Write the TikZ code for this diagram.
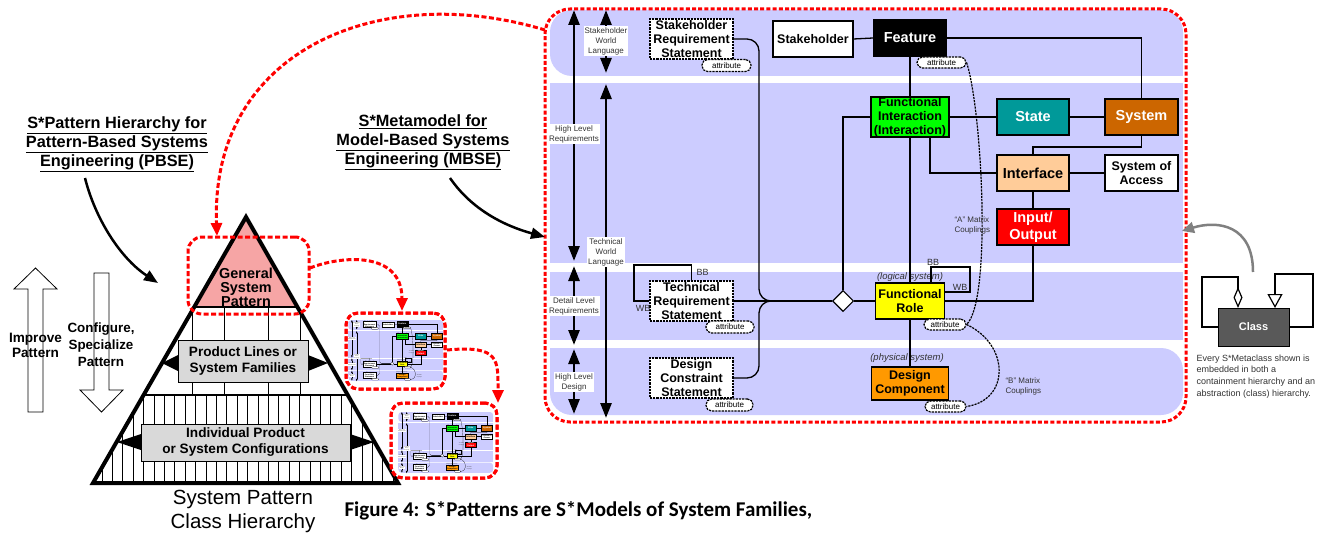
\documentclass[tikz,border=0pt]{standalone}
\usepackage{fontspec}
\setmainfont{Liberation Sans}
\newfontfamily\calibri{Carlito}
\usetikzlibrary{arrows.meta,shapes.geometric}
\definecolor{lav}{HTML}{CCCCFF}
\definecolor{fgreen}{HTML}{00FF00}
\definecolor{steal}{HTML}{009999}
\definecolor{sysor}{HTML}{CC6600}
\definecolor{peach}{HTML}{FFCC99}
\definecolor{iored}{HTML}{FF0000}
\definecolor{fryel}{HTML}{FFFF00}
\definecolor{dcor}{HTML}{FF9900}
\definecolor{pinkf}{HTML}{F6A5A5}
\definecolor{boxgray}{HTML}{D9D9D9}
\definecolor{classgray}{HTML}{595959}
\definecolor{labgray}{HTML}{333333}
\newcommand\fs[2]{\fontsize{#1}{#2}\selectfont}
\newcommand\mmset[1]{%
 \pgfmathsetmacro\mmlwT{1.3*#1}%
 \pgfmathsetmacro\mmlwB{1.1*#1}%
 \pgfmathsetmacro\mmlwD{1.2*#1}%
 \pgfmathsetmacro\mmlwA{2.6*#1}%
 \pgfmathsetmacro\mmlwK{2.4*#1}%
 \pgfmathsetmacro\mmaL{15*#1}%
 \pgfmathsetmacro\mmaW{11*#1}%
 \pgfmathsetmacro\mmdA{2.2*#1}%
 \pgfmathsetmacro\mmdB{1*#1}%
 \pgfmathsetmacro\mmrB{22*#1}%
 \pgfmathsetmacro\mmrC{12*#1}%
 \pgfmathsetmacro\mmrP{5.5*#1}%
}
\tikzset{
 conn/.style={draw=black, line width=\mmlwT pt},
 mmbox/.style={draw=black, line width=\mmlwB pt, align=center, inner sep=0pt, font=\bfseries\fs{12.5}{14}},
 bigt/.style={font=\bfseries\fs{14.5}{16.5}},
 dotbox/.style={mmbox, fill=white, line width=\mmlwD pt, dash pattern=on \mmdA pt off \mmdB pt, minimum width=83pt, minimum height=40pt},
 attr/.style={draw=black, fill=white, line width=\mmlwD pt, dash pattern=on \mmdA pt off \mmdB pt, rounded corners=\mmrP pt, minimum width=48pt, minimum height=12pt, inner sep=0pt, font=\fs{8}{9}},
 mmlabel/.style={fill=white, inner sep=1pt, align=center, text=labgray, font=\fs{8}{10}},
 mmarrow/.style={line width=\mmlwA pt, {Triangle[length=\mmaL pt,width=\mmaW pt]}-{Triangle[length=\mmaL pt,width=\mmaW pt]}},
 coup/.style={draw=black, line width=\mmlwD pt, dash pattern=on \mmdA pt off \mmdB pt},
 smallt/.style={text=labgray, font=\fs{8}{10}, align=left},
 ital/.style={text=labgray, font=\itshape\fs{9.5}{11}},
 redd/.style={draw=red, line width=3pt, dash pattern=on 5pt off 2.5pt},
 redarrow/.style={redd, -{Triangle[length=13pt,width=11pt,fill=red]}},
 blackarrow/.style={line width=2.5pt, -{Triangle[length=14pt,width=11pt]}},
 titlet/.style={align=center, font=\bfseries\fs{16.3}{19}},
 tribox/.style={draw=black, line width=1pt, fill=boxgray, align=center, font=\bfseries\fs{13.6}{16}},
}
\newcommand\mmdraw{%
 \fill[lav, rounded corners=\mmrB pt] (550,10) rectangle (1183,76);
 \fill[lav] (600,40) rectangle (1183,76);
 \fill[lav] (550,83) rectangle (1183,263);
 \fill[lav] (550,272) rectangle (1183,340);
 \fill[lav, rounded corners=\mmrB pt] (550,348) rectangle (1183,415);
 \fill[lav] (550,348) rectangle (600,380);
 \draw[mmarrow] (574,10) -- (574,261);
 \draw[mmarrow] (574,266) -- (574,345);
 \draw[mmarrow] (574,349) -- (574,414);
 \draw[mmarrow] (606,10) -- (606,73);
 \draw[mmarrow] (606,84) -- (606,418);
 \node[mmlabel] (lHLR) at (574,134) {High Level\\Requirements};
 \node[mmlabel] (lDLR) at (574,306) {Detail Level\\Requirements};
 \node[mmlabel] (lHLD) at (574,382) {High Level\\Design};
 \node[mmlabel] (lSWL) at (606,41) {Stakeholder\\World\\Language};
 \node[mmlabel] (lTWL) at (606,252) {Technical\\World\\Language};
 % nodes
 \node[dotbox] (SRS) at (691.5,39) {Stakeholder\\Requirement\\Statement};
 \node[attr, minimum width=49pt] (aS) at (726.5,65.5) {attribute};
 \node[mmbox, fill=white, minimum width=80pt, minimum height=36pt] (Stk) at (813,39) {Stakeholder};
 \node[mmbox, bigt, fill=black, text=white, minimum width=73pt, minimum height=36pt] (Feat) at (910,38) {Feature};
 \node[attr, minimum width=49pt, minimum height=11pt] (aF) at (941.5,62.5) {attribute};
 \node[mmbox, fill=fgreen, minimum width=78pt, minimum height=40pt] (FI) at (910,117) {Functional\\Interaction\\(Interaction)};
 \node[mmbox, bigt, fill=steal, text=white, minimum width=72pt, minimum height=36pt] (State) at (1033,117) {State};
 \node[mmbox, bigt, fill=sysor, text=white, minimum width=73pt, minimum height=36pt] (Sys) at (1141.5,117) {System};
 \node[mmbox, bigt, fill=peach, minimum width=72pt, minimum height=36pt] (Intf) at (1033,173) {Interface};
 \node[mmbox, fill=white, minimum width=73pt, minimum height=36pt] (SoA) at (1141.5,173) {System of\\Access};
 \node[mmbox, bigt, fill=iored, text=white, minimum width=72pt, minimum height=36pt] (IO) at (1033,227) {Input/\\Output};
 \node[dotbox] (TRS) at (691.5,301) {Technical\\Requirement\\Statement};
 \node[attr] (aT) at (730,327) {attribute};
 \node[dotbox] (DCS) at (691.5,378) {Design\\Constraint\\Statement};
 \node[attr, minimum width=47pt] (aD) at (729.5,405) {attribute};
 \node[diamond, draw=black, fill=white, line width=\mmlwB pt, minimum width=21pt, minimum height=21pt, inner sep=0pt] (D) at (843,301) {};
 \node[mmbox, fill=fryel, minimum width=69pt, minimum height=36pt] (FR) at (910,301) {Functional\\Role};
 \node[attr, minimum width=42pt, minimum height=11pt] (aFR) at (945,324.5) {attribute};
 \node[mmbox, fill=dcor, minimum width=77pt, minimum height=33pt] (DC) at (910,383.5) {Design\\Component};
 \node[attr, minimum width=41pt, minimum height=11pt] (aDC) at (945.5,406.5) {attribute};
 \node[ital] (lLog) at (910,277) {(logical system)};
 \node[ital] (lPhy) at (907,358) {(physical system)};
 % connectors
 \coordinate (fiB) at (930,137);
 \coordinate (J) at (759,301);
 \draw[conn] (Stk.east) -- (Feat.west);
 \draw[conn] (Feat.east) -| (Sys.north);
 \draw[conn] (Feat.south) -- (FI.north);
 \draw[conn] (FI.east) -- (State.west);
 \draw[conn] (State.east) -- (Sys.west);
 \draw[conn] (Sys.south) |- (1033,147) -- (Intf.north);
 \draw[conn] (fiB) |- (Intf.west);
 \draw[conn] (Intf.east) -- (SoA.west);
 \draw[conn] (Intf.south) -- (IO.north);
 \draw[conn] (IO.south) |- (FR.east);
 \draw[conn] (FI.west) -| (D.north);
 \draw[conn] (FI.south) -- (FR.north);
 \draw[conn] (FR.south) -- (DC.north);
 \draw[conn] (D.east) -- (FR.west);
 \draw[conn] (TRS.east) -- (D.west);
 \draw[conn, rounded corners=\mmrC pt] (SRS.east) -- (759,39) -- (J) -- (D.west);
 \draw[conn, rounded corners=\mmrC pt] (DCS.east) -- (759,378) -- (J) -- (D.west);
 \draw[line width=\mmlwK pt] (772,301) -- (D.west);
 \draw[conn] (TRS.north) -- (691.5,265) -- (634,265) |- (TRS.west);
 \node[smallt, font=\fs{9}{10}, anchor=west] (bb1) at (693,272) {BB};
 \node[smallt, font=\fs{9}{10}] (wb1) at (643,308.5) {WB};
 \draw[conn] (931,283) -- (931,267) -- (970,267) -- (970,292) -- (944.5,292);
 \node[smallt, font=\fs{9}{10}] (bb2) at (933,262) {BB};
 \node[smallt, font=\fs{9}{10}] (wb2) at (960,287) {WB};
 \draw[coup] (aF.east) .. controls (982,110) and (992,300) .. (aFR.east);
 \draw[coup] (aFR.east) .. controls (1010,345) and (1010,400) .. (aDC.east);
 \node[smallt, anchor=west] (lA) at (951,225) {“A” Matrix\\Couplings};
 \node[smallt, anchor=west] (lB) at (1002,386) {“B” Matrix\\Couplings};
}
\begin{document}
\begin{tikzpicture}[x=1pt,y=-1pt]
\useasboundingbox (0,0) rectangle (1325,535);
\fill[white] (0,0) rectangle (1325,535);
\mmset{1}
% titles
\node[titlet] (tP) at (117,144) {\underline{S*Pattern Hierarchy for}\\\underline{Pattern-Based Systems}\\\underline{Engineering (PBSE)}};
\node[titlet] (tM) at (423,142) {\underline{S*Metamodel for}\\\underline{Model-Based Systems}\\\underline{Engineering (MBSE)}};
% improve / configure arrows
\draw[fill=white, line width=0.8pt] (28,412) -- (28,289) -- (14,289) -- (35.5,268) -- (57,289) -- (43,289) -- (43,412) -- cycle;
\draw[fill=white, line width=0.8pt] (94,273) -- (109,273) -- (109,390) -- (123,390) -- (101.5,412) -- (80,390) -- (94,390) -- cycle;
\node[align=center, font=\bfseries\fs{13.6}{15}] (imp) at (35.5,345) {Improve\\Pattern};
\node[align=center, font=\bfseries\fs{13.4}{17}] (cfg) at (101,345) {Configure,\\Specialize\\Pattern};
% triangle
\fill[pinkf] (246,217) -- (297.4,307) -- (194.2,307) -- cycle;
\begin{scope}
 \clip (246,217) -- (398,483) -- (93,483) -- cycle;
 \foreach \x in {192,224,268,300} \draw[line width=1pt] (\x,307) -- (\x,395);
 \foreach \k in {0,...,28} \draw[line width=1pt] (102+10.4*\k,395) -- (102+10.4*\k,483);
 \draw[line width=1.2pt] (90,307) -- (400,307);
 \draw[line width=1.2pt] (90,395) -- (400,395);
\end{scope}
\node[tribox, minimum width=130pt, minimum height=42pt] (PL) at (243,361) {Product Lines or\\System Families};
\node[tribox, minimum width=209pt, minimum height=37pt] (IND) at (245.5,442.5) {Individual Product\\or System Configurations};
\fill (178,355) -- (162,363) -- (178,371) -- cycle;
\fill (308,355) -- (328,363) -- (308,371) -- cycle;
\fill (141,434) -- (117,442) -- (141,450) -- cycle;
\fill (350,434) -- (374,442) -- (350,450) -- cycle;
\draw[line width=4pt, line join=miter] (246,217) -- (398,483) -- (93,483) -- cycle;
\node[align=center, font=\bfseries\fs{14.4}{14}] (GSP) at (246,287) {General\\System\\Pattern};
\node[redd, rounded corners=14pt, minimum width=121pt, minimum height=77pt] (GSPr) at (248.5,275.5) {};
\node[align=center, font=\fs{20.5}{24}] (SPCH) at (243,511) {System Pattern\\Class Hierarchy};
% thumbnails
\node[redd, fill=white, rounded corners=12pt, minimum width=99pt, minimum height=76pt] (T1) at (395.5,351) {};
\begin{scope}[shift={(265.8,318.5)}, scale=0.15, transform shape]
 \mmset{0.15}\mmdraw
\end{scope}
\node[redd, rounded corners=12pt, minimum width=99pt, minimum height=76pt] (T1b) at (395.5,351) {};
\node[redd, fill=white, rounded corners=12pt, minimum width=106pt, minimum height=75pt] (T2) at (444,440.5) {};
\begin{scope}[shift={(315.8,410.5)}, scale=0.15, transform shape]
 \mmset{0.15}\mmdraw
\end{scope}
\node[redd, rounded corners=12pt, minimum width=106pt, minimum height=75pt] (T2b) at (444,440.5) {};
% main metamodel
\mmset{1}
\mmdraw
\node[redd, line width=3pt, dash pattern=on 4pt off 2.2pt, rounded corners=25pt, minimum width=641pt, minimum height=413pt] (MM) at (865.5,215.5) {};
% class legend
\node[draw=black, fill=classgray, text=white, font=\bfseries\fs{11}{13}, minimum width=71pt, minimum height=38pt, line width=1pt] (Class) at (1253.5,327) {Class};
\coordinate (cA) at (1238,308);
\coordinate (cB) at (1275,308);
\draw[line width=1.2pt, -{Diamond[open,length=21pt,width=9pt]}] (Class.west) -- (1202,327) -- (1202,277) -- (1238,277) -- (cA);
\draw[line width=1.2pt, -{Triangle[open,length=14pt,width=15pt]}] (Class.east) -- (1313,327) -- (1313,274) -- (1275,274) -- (cB);
\node[anchor=north west, align=left, text=labgray, font=\fs{9}{11.7}] (note) at (1193,351) {Every S*Metaclass shown is\\embedded in both a\\containment hierarchy and an\\abstraction (class) hierarchy.};
\coordinate (gS) at (1253,272);
\coordinate (gE) at (1182,231);
\draw[draw=gray, line width=2.5pt, -{Triangle[length=12pt,width=11pt,fill=gray]}] (gS) .. controls (1253,225) and (1218,220) .. (gE);
% black arrows
\coordinate (pbS) at (85,178);
\coordinate (pbE) at (158,283);
\draw[blackarrow] (pbS) .. controls (95,218) and (120,258) .. (pbE);
\coordinate (mbS) at (450,178);
\coordinate (mbE) at (545,237);
\draw[blackarrow] (mbS) .. controls (472,210) and (505,226) .. (mbE);
% red dashed arrows
\coordinate (r1S) at (545,30);
\coordinate (r1E) at (217,236);
\draw[redarrow] (r1S) .. controls (380,-20) and (210,50) .. (r1E);
\coordinate (r2S) at (310,268);
\coordinate (r2E) at (402,311);
\draw[redarrow] (r2S) .. controls (340,256) and (402,250) .. (r2E);
\coordinate (r3S) at (447,350);
\coordinate (r3E) at (498,403);
\draw[redarrow] (r3S) .. controls (500,345) and (498,360) .. (r3E);
% caption
\node[anchor=base west, font=\calibri\bfseries\fs{21}{24}] (cap) at (341,516) {Figure 4: S*Patterns are S*Models of System Families,};
\end{tikzpicture}
\end{document}
